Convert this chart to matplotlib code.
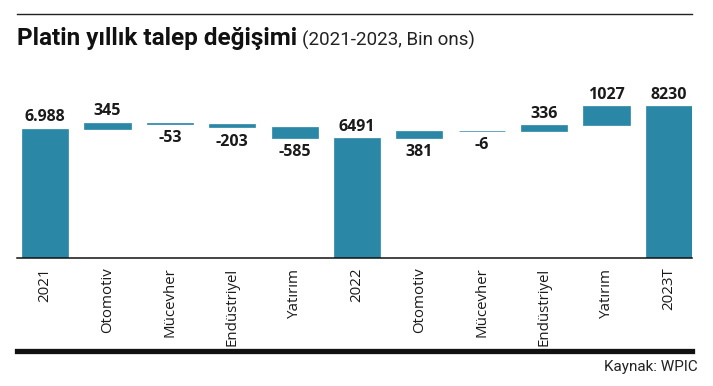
#!/usr/bin/env python3

import matplotlib
matplotlib.use("Agg")
import matplotlib.pyplot as plt
from matplotlib.lines import Line2D

categories = ["2021", "Otomotiv", "Mücevher", "Endüstriyel", "Yatırım",
              "2022", "Otomotiv", "Mücevher", "Endüstriyel", "Yatırım", "2023T"]
values = [6988, 345, -53, -203, -585, 6491, 381, -6, 336, 1027, 8230]
is_total = [True, False, False, False, False,
            True, False, False, False, False, True]
value_labels = ["6.988", "345", "-53", "-203", "-585",
                "6491", "381", "-6", "336", "1027", "8230"]

BAR_COLOR = "#2a87a6"
TITLE_FONT = ["Roboto", "DejaVu Sans"]
BODY_FONT = ["Open Sans", "DejaVu Sans"]


def waterfall_spans(vals, totals):
    bottoms, heights = [], []
    running = 0
    for v, tot in zip(vals, totals):
        if tot:
            bottoms.append(0)
            heights.append(v)
            running = v
        else:
            bottoms.append(running if v > 0 else running + v)
            heights.append(abs(v))
            running += v
    return bottoms, heights


def main():
    W, H = 713, 386
    fig = plt.figure(figsize=(W / 100, H / 100), dpi=100)

    # axes box in pixel terms: baseline at y=258, left 17, right 692
    ax = fig.add_axes([17 / W, (H - 258) / H, (692 - 17) / W, (258 - 80) / H])

    bottoms, heights = waterfall_spans(values, is_total)
    x = list(range(len(categories)))
    ax.bar(x, heights, bottom=bottoms, width=0.74, color=BAR_COLOR,
           edgecolor=BAR_COLOR, linewidth=0.5)

    ax.set_xlim(-0.45, 10.37)
    ax.set_ylim(0, 9640)

    for i, (b, h, v, lab) in enumerate(zip(bottoms, heights, values, value_labels)):
        # in the source the 2022 Otomotiv label sits under its bar
        below = (v < 0 and not is_total[i]) or i == 6
        if below:
            ax.annotate(lab, (i, b), xytext=(0, -4.5), textcoords="offset points",
                        ha="center", va="top", fontsize=11.5, fontweight="bold",
                        family=BODY_FONT, color="#1a1a1a")
        else:
            ax.annotate(lab, (i, b + h), xytext=(0, 2.5), textcoords="offset points",
                        ha="center", va="bottom", fontsize=11.5, fontweight="bold",
                        family=BODY_FONT, color="#1a1a1a")

    ax.set_xticks(x)
    ax.set_xticklabels(categories, rotation=90, fontsize=10.8, family=BODY_FONT,
                       color="#1a1a1a")
    ax.tick_params(axis="x", length=0, pad=7)
    ax.set_yticks([])
    for side in ("top", "right", "left"):
        ax.spines[side].set_visible(False)
    ax.spines["bottom"].set_linewidth(1.1)
    ax.spines["bottom"].set_color("#111111")

    # top rule and heavy bottom rule
    fig.add_artist(Line2D([17 / W, 692 / W], [1 - 14 / H, 1 - 14 / H],
                          color="#222222", linewidth=1.0))
    fig.add_artist(Line2D([17 / W, 692 / W], [1 - 350.5 / H, 1 - 350.5 / H],
                          color="#111111", linewidth=3.8))

    t = fig.text(17 / W, 1 - 45.5 / H, "Platin yıllık talep değişimi",
                 fontsize=17.5, fontweight="bold", family=TITLE_FONT,
                 color="#111111", va="baseline", ha="left")
    fig.canvas.draw()
    bb = t.get_window_extent()
    fig.text(bb.x1 / W + 5 / W, 1 - 45.5 / H, "(2021-2023, Bin ons)",
             fontsize=13.5, family=TITLE_FONT, color="#222222",
             va="baseline", ha="left")

    fig.text(698 / W, 1 - 367 / H, "Kaynak: WPIC", fontsize=11,
             family=TITLE_FONT, color="#222222", ha="right", va="center")

    fig.savefig("out.png", dpi=100)
    plt.close(fig)


if __name__ == "__main__":
    main()
